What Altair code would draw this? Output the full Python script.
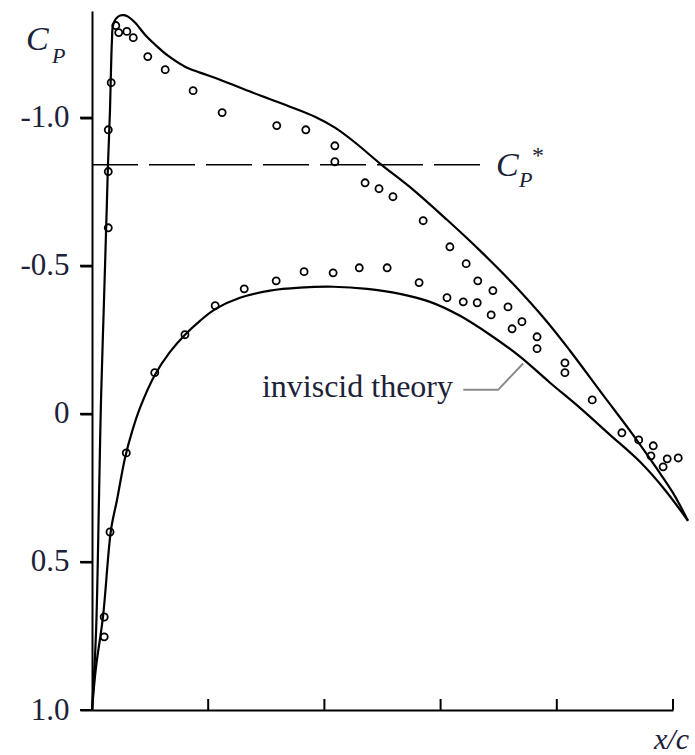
import altair as alt
import pandas as pd

# Inviscid theory, upper surface (x/c, Cp)
upper_x = [0.0000, 0.0069, 0.0120, 0.0155, 0.0207, 0.0258, 0.0275, 0.0310, 0.0327, 0.0344,
           0.0361, 0.0413, 0.0482, 0.0551, 0.0620, 0.0740, 0.0912, 0.1084, 0.1308, 0.1601,
           0.1859, 0.2203, 0.2771, 0.3356, 0.3838, 0.4182, 0.4527, 0.4957, 0.5525, 0.6110,
           0.6678, 0.7246, 0.7831, 0.8227, 0.8795, 0.9312, 0.9725, 1.0000, 1.0258]
upper_cp = [1.000, 0.740, 0.291, -0.047, -0.385, -0.723, -0.841, -1.027, -1.162, -1.264,
            -1.311, -1.334, -1.345, -1.346, -1.341, -1.321, -1.280, -1.247, -1.209, -1.172,
            -1.152, -1.128, -1.084, -1.041, -1.003, -0.966, -0.916, -0.845, -0.757, -0.655,
            -0.551, -0.439, -0.311, -0.213, -0.064, 0.071, 0.186, 0.267, 0.361]

# Inviscid theory, lower surface
lower_x = [0.0000, 0.0069, 0.0189, 0.0327, 0.0430, 0.0568, 0.0688, 0.0826, 0.1084, 0.1343,
           0.1601, 0.1859, 0.2134, 0.2547, 0.3064, 0.3580, 0.4148, 0.4733, 0.5301, 0.5818,
           0.6334, 0.6850, 0.7367, 0.7883, 0.8399, 0.8916, 0.9432, 0.9862, 1.0258]
lower_cp = [1.000, 0.855, 0.686, 0.392, 0.291, 0.149, 0.061, -0.020, -0.132, -0.209,
            -0.267, -0.314, -0.355, -0.392, -0.416, -0.426, -0.429, -0.422, -0.405, -0.378,
            -0.331, -0.267, -0.193, -0.105, -0.020, 0.071, 0.162, 0.257, 0.361]

# Measured pressure coefficients, upper surface
meas_up_x = [0.028, 0.028, 0.028, 0.033, 0.041, 0.046, 0.060, 0.071, 0.096, 0.126, 0.174,
             0.224, 0.318, 0.368, 0.418, 0.418, 0.470, 0.494, 0.518, 0.570, 0.616, 0.644,
             0.664, 0.690, 0.716, 0.740, 0.766, 0.766, 0.814, 0.814, 0.861, 0.912, 0.941,
             0.966, 0.962, 0.990, 1.009, 0.983]
meas_up_cp = [-0.628, -0.818, -0.959, -1.118, -1.311, -1.287, -1.291, -1.270, -1.206, -1.162, -1.091,
              -1.017, -0.973, -0.959, -0.905, -0.851, -0.780, -0.760, -0.733, -0.652, -0.564, -0.507,
              -0.449, -0.416, -0.361, -0.311, -0.260, -0.220, -0.172, -0.139, -0.047, 0.064, 0.088,
              0.108, 0.142, 0.152, 0.149, 0.179]

# Measured pressure coefficients, lower surface
meas_lo_x = [0.021, 0.021, 0.031, 0.059, 0.108, 0.160, 0.212, 0.262, 0.317, 0.365, 0.415,
             0.460, 0.508, 0.563, 0.611, 0.639, 0.663, 0.687, 0.723]
meas_lo_cp = [0.753, 0.686, 0.399, 0.132, -0.139, -0.267, -0.365, -0.422, -0.449, -0.480, -0.476,
              -0.493, -0.493, -0.443, -0.392, -0.378, -0.375, -0.334, -0.287]

# Critical pressure coefficient and the extent of its line
cp_star = -0.841
cp_star_end = 0.668

# Leader from the "inviscid theory" label to the lower-surface curve
leader_x = [0.639, 0.699, 0.742]
leader_cp = [-0.081, -0.081, -0.170]

x_ticks = [0.2, 0.4, 0.6, 0.8, 1.0]
y_ticks = [-1.0, -0.5, 0.0, 0.5, 1.0]

SERIF = "Liberation Serif"
INK = "#1c2238"
W, H = 581, 699

xs = alt.Scale(domain=[0, 1], nice=False, zero=False)
ys = alt.Scale(domain=[-1.36, 1.0], reverse=True, nice=False, zero=False)

theory = pd.concat([
    pd.DataFrame({"x": upper_x, "cp": upper_cp, "surface": "upper", "i": range(len(upper_x))}),
    pd.DataFrame({"x": lower_x, "cp": lower_cp, "surface": "lower", "i": range(len(lower_x))}),
])
measured = pd.concat([
    pd.DataFrame({"x": meas_up_x, "cp": meas_up_cp}),
    pd.DataFrame({"x": meas_lo_x, "cp": meas_lo_cp}),
])

curves = alt.Chart(theory).mark_line(
    color="black", strokeWidth=2.2, interpolate="catmull-rom"
).encode(
    x=alt.X("x:Q", scale=xs, title=None, axis=alt.Axis(
        title=None, labels=False, ticks=False, grid=False,
        domainColor="black", domainWidth=2)),
    y=alt.Y("cp:Q", scale=ys, title=None, axis=alt.Axis(
        values=y_ticks, title=None, grid=False, ticks=True, tickSize=12, tickWidth=2,
        tickColor="black", domainColor="black", domainWidth=2, labelFont=SERIF,
        labelFontSize=31, labelColor=INK, labelPadding=11,
        labelExpr="datum.value == 0 ? '0' : (datum.value < 0 ? '-' + format(-datum.value, '.1f') : format(datum.value, '.1f'))",
    )),
    detail="surface:N",
    order="i:Q",
)

points = alt.Chart(measured).mark_point(
    shape="circle", filled=False, color="black", size=50, strokeWidth=1.8, opacity=1
).encode(
    x=alt.X("x:Q", scale=xs, title=None),
    y=alt.Y("cp:Q", scale=ys, title=None),
)

star_line = alt.Chart(pd.DataFrame({"x": [0.0], "x2": [cp_star_end], "cp": [cp_star]})).mark_rule(
    color="black", strokeWidth=1.6, strokeDash=[46, 11]
).encode(
    x=alt.X("x:Q", scale=xs, title=None),
    x2="x2:Q",
    y=alt.Y("cp:Q", scale=ys, title=None),
)

leader = alt.Chart(pd.DataFrame({"x": leader_x, "cp": leader_cp, "i": [0, 1, 2]})).mark_line(
    color="#8a8a8a", strokeWidth=2
).encode(
    x=alt.X("x:Q", scale=xs, title=None),
    y=alt.Y("cp:Q", scale=ys, title=None),
    order="i:Q",
)

# Inward ticks on the x/c axis
x_tick_marks = alt.Chart(pd.DataFrame({"x": x_ticks})).mark_rule(
    color="black", strokeWidth=2
).encode(
    x=alt.X("x:Q", scale=xs, title=None),
    y=alt.value(H),
    y2=alt.value(H - 11),
)

# Outward ticks on the Cp axis
y_tick_marks = alt.Chart(pd.DataFrame({"cp": y_ticks})).mark_rule(
    color="black", strokeWidth=2
).encode(
    y=alt.Y("cp:Q", scale=ys, title=None),
    x=alt.value(-12),
    x2=alt.value(0),
)


def label(text, x, y, size, italic=True, align="left", color=INK):
    return alt.Chart(pd.DataFrame({"t": [text]})).mark_text(
        font=SERIF, fontSize=size, fontStyle="italic" if italic else "normal",
        align=align, baseline="alphabetic", color=color,
    ).encode(text="t:N", x=alt.value(x), y=alt.value(y))


texts = [
    label("C", -66, 39, 34),
    label("P", -40, 52, 22),
    label("C", 404, 165, 34),
    label("P", 427, 176, 22),
    label("*", 440, 152, 24, italic=False),
    label("inviscid theory", 361, 386, 32, italic=False, align="right"),
    label("x/c", 597, 738, 30, align="right"),
]

chart = alt.layer(curves, points, star_line, leader, x_tick_marks, y_tick_marks, *texts).properties(
    width=W,
    height=H,
    padding={"left": 92, "top": 11, "right": 22, "bottom": 45},
    autosize=alt.AutoSizeParams(type="none"),
    background="white",
).configure_view(stroke=None)

chart.save("out.html", embed_options={"renderer": "svg", "actions": False})
